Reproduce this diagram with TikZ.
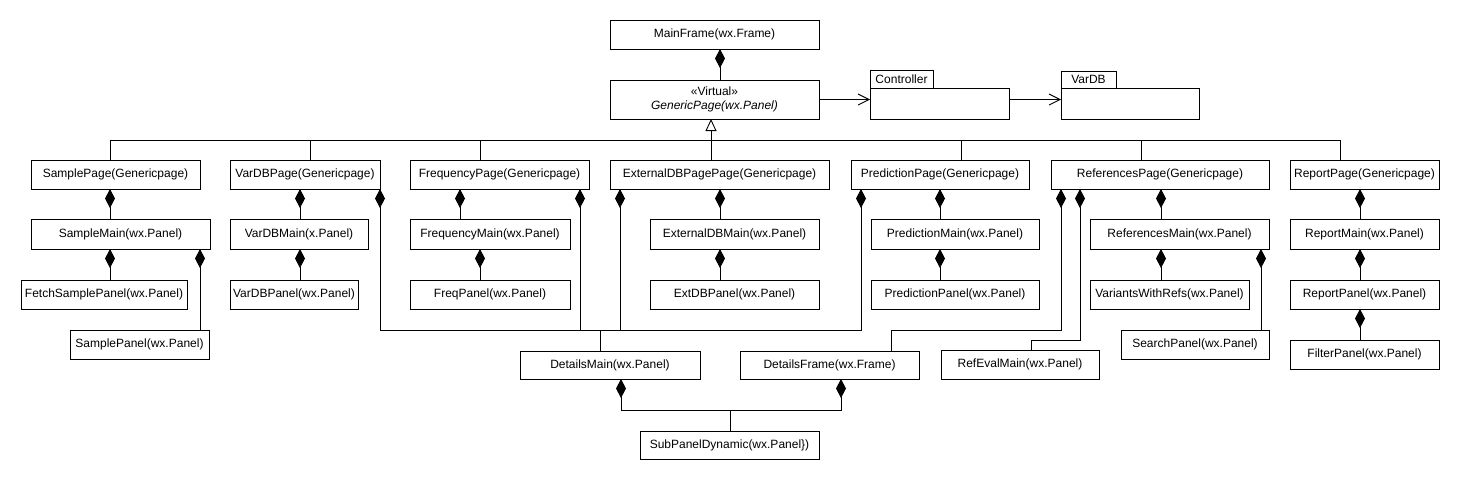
\documentclass[tikz,border=0pt]{standalone}
\usepackage{fontspec}
\setmainfont{Liberation Sans}
\usetikzlibrary{arrows.meta}
\newcommand{\umlbox}[6]{\node[box, minimum width={(#4-#2)*1pt}, minimum height={(#5-#3)*1pt}] (#1) at ({(#2+#4)/2},{(#3+#5)/2}) {#6};}
\begin{document}
\begin{tikzpicture}[x=1pt,y=-1pt, line width=0.9pt,
  box/.style={draw, fill=white, inner sep=2pt, outer sep=0pt, font=\fontsize{12}{14}\selectfont, align=center},
  comp/.style={{Diamond[length=19pt,width=10pt]}-},
  gen/.style={-{Triangle[open,length=12pt,width=11pt]}},
  dep/.style={-{Straight Barb[length=11pt,width=11pt]}}]
\fill[white] (0,0) rectangle (1460,480);
\useasboundingbox (0,0) rectangle (1460,480);
% top
\umlbox{MainFrame}{610}{20}{819}{49}{MainFrame(wx.Frame)}
\umlbox{GenericPage}{610}{80}{819}{119}{\fontsize{12}{16.5}\selectfont «Virtual»\\\textit{GenericPage(wx.Panel)}}
\umlbox{Controller}{870}{88}{1009}{119}{}
\umlbox{ControllerTab}{870}{70}{933}{88}{Controller}
\umlbox{VarDB}{1061}{88}{1199}{119}{}
\umlbox{VarDBTab}{1061}{71}{1116}{88}{VarDB}
% pages
\umlbox{SamplePage}{31}{160}{200}{189}{SamplePage(Genericpage)}
\umlbox{VarDBPage}{230}{160}{380}{189}{VarDBPage(Genericpage)}
\umlbox{FrequencyPage}{410}{160}{589}{189}{FrequencyPage(Genericpage)}
\umlbox{ExternalDB}{610}{160}{829}{189}{ExternalDBPagePage(Genericpage)}
\umlbox{PredictionPage}{851}{160}{1029}{189}{PredictionPage(Genericpage)}
\umlbox{ReferencesPage}{1051}{160}{1269}{189}{ReferencesPage(Genericpage)}
\umlbox{ReportPage}{1290}{160}{1439}{189}{ReportPage(Genericpage)}
% mains
\umlbox{SampleMain}{31}{219}{210}{249}{SampleMain(wx.Panel)}
\umlbox{VarDBMain}{230}{219}{368}{249}{VarDBMain(x.Panel)}
\umlbox{FrequencyMain}{410}{219}{570}{249}{FrequencyMain(wx.Panel)}
\umlbox{ExternalDBMain}{650}{219}{819}{249}{ExternalDBMain(wx.Panel)}
\umlbox{PredictionMain}{871}{219}{1039}{249}{PredictionMain(wx.Panel)}
\umlbox{ReferencesMain}{1090}{219}{1269}{249}{ReferencesMain(wx.Panel)}
\umlbox{ReportMain}{1290}{219}{1439}{249}{ReportMain(wx.Panel)}
% panels
\umlbox{FetchSample}{21}{280}{187}{309}{FetchSamplePanel(wx.Panel)}
\umlbox{VarDBPanel}{230}{280}{358}{309}{VarDBPanel(wx.Panel)}
\umlbox{FreqPanel}{410}{280}{570}{309}{FreqPanel(wx.Panel)}
\umlbox{ExtDBPanel}{650}{280}{819}{309}{ExtDBPanel(wx.Panel)}
\umlbox{PredictionPanel}{871}{280}{1039}{309}{PredictionPanel(wx.Panel)}
\umlbox{VariantsWithRefs}{1090}{280}{1249}{309}{VariantsWithRefs(wx.Panel)}
\umlbox{ReportPanel}{1290}{280}{1439}{309}{ReportPanel(wx.Panel)}
\umlbox{SamplePanel}{70}{330}{209}{359}{SamplePanel(wx.Panel)}
\umlbox{SearchPanel}{1121}{330}{1269}{359}{SearchPanel(wx.Panel)}
\umlbox{FilterPanel}{1290}{340}{1439}{369}{FilterPanel(wx.Panel)}
\umlbox{DetailsMain}{520}{351}{700}{379}{DetailsMain(wx.Panel)}
\umlbox{DetailsFrame}{740}{351}{919}{379}{DetailsFrame(wx.Frame)}
\umlbox{RefEvalMain}{941}{350}{1099}{379}{RefEvalMain(wx.Panel)}
\umlbox{SubPanel}{640}{431}{819}{459}{SubPanelDynamic(wx.Panel\})}
% helper coordinates
\foreach \v in {110,200,300,310,380,460,480,580,600,620,621,711,720,730,841,861,891,940,961,1031,1061,1080,1141,1161,1261,1340,1360}
  \coordinate (x\v) at (\v,0);
\coordinate (y140) at (0,140);
\coordinate (y330) at (0,330);
\coordinate (y340) at (0,340);
\coordinate (y410) at (0,410);
% top connectors
\draw[comp] (MainFrame.south -| x720) -- (GenericPage.north -| x720);
\draw[dep] (GenericPage.east) -- (GenericPage.east -| Controller.west);
\draw[dep] (GenericPage.east -| Controller.east) -- (GenericPage.east -| VarDB.west);
% generalization bus
\draw[gen] (ExternalDB.north -| x711) -- (GenericPage.south -| x711);
\draw (SamplePage.north -| x110) -- (x110 |- y140) -- (x1340 |- y140) -- (ReportPage.north -| x1340);
\foreach \n/\c in {VarDBPage/x310, FrequencyPage/x480, PredictionPage/x961, ReferencesPage/x1141}
  \draw (\n.north -| \c) -- (\c |- y140);
% straight compositions
\foreach \p/\q/\c in {SamplePage/SampleMain/x110, SampleMain/FetchSample/x110, SampleMain/SamplePanel/x200,
  VarDBPage/VarDBMain/x300, VarDBMain/VarDBPanel/x300, FrequencyPage/FrequencyMain/x460, FrequencyMain/FreqPanel/x480,
  ExternalDB/ExternalDBMain/x720, ExternalDBMain/ExtDBPanel/x720, PredictionPage/PredictionMain/x940,
  PredictionMain/PredictionPanel/x940, ReferencesPage/ReferencesMain/x1161, ReferencesMain/VariantsWithRefs/x1161,
  ReferencesMain/SearchPanel/x1261, ReportPage/ReportMain/x1360, ReportMain/ReportPanel/x1360, ReportPanel/FilterPanel/x1360}
  \draw[comp] (\p.south -| \c) -- (\q.north -| \c);
% bent compositions
\foreach \p/\c in {VarDBPage/x380, FrequencyPage/x580, ExternalDB/x620, PredictionPage/x861}
  \draw[comp] (\p.south -| \c) -- (\c |- y330) -- (x600 |- y330) -- (DetailsMain.north -| x600);
\draw[comp] (ReferencesPage.south -| x1061) -- (x1061 |- y330) -- (x891 |- y330) -- (DetailsFrame.north -| x891);
\draw[comp] (ReferencesPage.south -| x1080) -- (x1080 |- y340) -- (x1031 |- y340) -- (RefEvalMain.north -| x1031);
\draw[comp] (DetailsMain.south -| x621) -- (x621 |- y410) -- (x730 |- y410) -- (SubPanel.north -| x730);
\draw[comp] (DetailsFrame.south -| x841) -- (x841 |- y410) -- (x730 |- y410) -- (SubPanel.north -| x730);
\end{tikzpicture}
\end{document}
